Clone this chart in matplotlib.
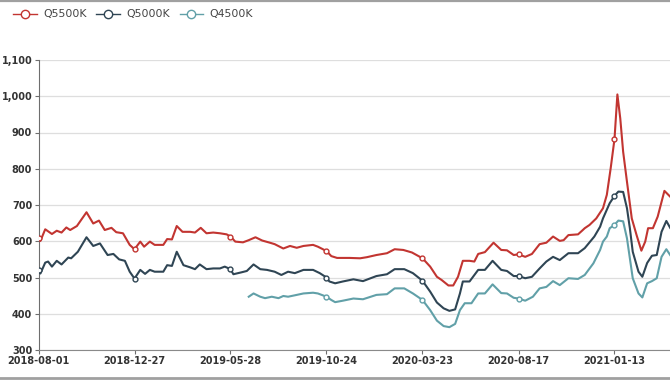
import numpy as np
import matplotlib
matplotlib.use('Agg')
import matplotlib.pyplot as plt
from matplotlib.lines import Line2D
from matplotlib.ticker import FuncFormatter, MultipleLocator

# Category axis: one step per trading day, a label every 100 days
TICK_LABELS = ['2018-08-01', '2018-12-27', '2019-05-28', '2019-10-24',
               '2020-03-23', '2020-08-17', '2021-01-13']
TICK_POS = [0, 100, 200, 300, 400, 500, 600]

# Q5500K (index, price)
q5500_x = [0, 2, 7, 14, 19, 24, 29, 33, 40, 50, 57, 63, 69, 76, 81, 88, 95, 100,
           106, 110, 116, 121, 130, 134, 139, 144, 150, 158, 163, 169, 175, 182,
           189, 196, 200, 205, 213, 219, 226, 233, 241, 246, 255, 262, 269, 276,
           286, 291, 300, 305, 311, 324, 335, 342, 352, 363, 371, 380, 389, 400,
           408, 415, 420, 427, 432, 437, 442, 449, 454, 458, 465, 474, 482, 488,
           495, 500, 507, 514, 522, 529, 536, 543, 547, 552, 562, 567, 569, 574,
           581, 588, 592, 596, 600, 603, 606, 609, 613, 618, 623, 628, 632, 635,
           640, 645, 652, 658]
q5500_y = [608, 601, 633, 620, 629, 624, 638, 631, 642, 680, 649, 657, 631, 637,
           625, 622, 590, 578, 599, 585, 599, 590, 590, 606, 605, 642, 626, 626,
           624, 637, 622, 624, 622, 619, 613, 599, 597, 603, 611, 602, 596, 592,
           580, 587, 582, 587, 590, 585, 573, 559, 554, 554, 553, 556, 562, 567,
           578, 576, 569, 553, 530, 502, 493, 478, 478, 502, 546, 546, 544, 565,
           570, 596, 576, 575, 562, 564, 557, 565, 592, 596, 613, 601, 603, 617,
           619, 631, 636, 645, 663, 691, 728, 801, 882, 1005, 939, 847, 764, 663,
           617, 574, 599, 636, 636, 668, 739, 723]

# Q5000K
q5000_x = [0, 2, 7, 10, 14, 19, 24, 31, 34, 41, 50, 57, 64, 72, 78, 84, 90, 95,
           100, 106, 111, 116, 121, 130, 134, 139, 144, 151, 158, 163, 168, 175,
           182, 189, 194, 200, 203, 211, 217, 224, 231, 238, 246, 253, 260, 267,
           276, 286, 293, 300, 303, 309, 317, 328, 338, 352, 363, 371, 381, 390,
           400, 408, 415, 422, 428, 434, 439, 442, 449, 458, 465, 473, 482, 488,
           495, 500, 507, 514, 522, 529, 536, 543, 552, 562, 569, 579, 585, 588,
           595, 600, 604, 609, 613, 616, 619, 625, 629, 634, 639, 644, 649, 654,
           658]
q5000_y = [522, 511, 541, 544, 530, 546, 536, 555, 553, 571, 611, 587, 594, 562,
           565, 550, 546, 516, 497, 521, 510, 521, 516, 516, 534, 532, 571, 534,
           528, 523, 536, 523, 525, 525, 530, 523, 509, 514, 518, 536, 523, 521,
           516, 507, 516, 512, 521, 521, 512, 500, 489, 484, 489, 495, 490, 504,
           509, 523, 523, 512, 491, 461, 431, 415, 408, 412, 456, 489, 489, 521,
           521, 546, 521, 518, 504, 504, 498, 502, 525, 544, 557, 548, 567, 567,
           581, 613, 640, 663, 705, 725, 737, 736, 691, 636, 571, 516, 502, 540,
           560, 562, 626, 656, 637]

# Q4500K (series starts mid 2019)
q4500_x = [219, 224, 231, 236, 243, 250, 255, 260, 269, 276, 286, 291, 300, 305,
           309, 317, 328, 338, 352, 363, 371, 381, 390, 400, 408, 415, 422, 428,
           434, 439, 444, 451, 458, 465, 473, 482, 488, 495, 500, 507, 515, 522,
           529, 536, 543, 552, 562, 569, 578, 585, 588, 592, 595, 600, 604, 609,
           613, 616, 619, 625, 629, 634, 639, 644, 649, 654, 658]
q4500_y = [447, 456, 447, 443, 447, 443, 449, 447, 452, 456, 458, 456, 447, 438,
           432, 436, 442, 440, 452, 454, 470, 470, 456, 438, 410, 381, 366, 363,
           372, 410, 429, 429, 456, 456, 481, 457, 456, 444, 442, 436, 447, 470,
           474, 490, 479, 498, 496, 507, 539, 576, 599, 613, 636, 645, 657, 655,
           608, 553, 498, 456, 445, 484, 490, 498, 557, 578, 562]

SERIES = [
    ('Q5500K', q5500_x, q5500_y, '#c23531'),
    ('Q5000K', q5000_x, q5000_y, '#2f4554'),
    ('Q4500K', q4500_x, q4500_y, '#61a0a8'),
]

fig = plt.figure(figsize=(6.7, 3.8), dpi=100)
# axes runs past the right edge, like the cropped original
px_per_step = 0.96
x_max = 700
ax = fig.add_axes([38.5 / 670, 30 / 380, x_max * px_per_step / 670, 290 / 380])

for name, xs, ys, color in SERIES:
    marks = [i for i, v in enumerate(xs) if v in TICK_POS]
    ax.plot(xs, ys, color=color, lw=1.5, marker='o', markevery=marks,
            markersize=3.5, markerfacecolor='white', markeredgecolor=color,
            markeredgewidth=1, solid_joinstyle='round', zorder=3)

ax.set_xlim(0, x_max)
ax.set_ylim(300, 1100)
ax.yaxis.set_major_locator(MultipleLocator(100))
ax.yaxis.set_major_formatter(FuncFormatter(lambda v, p: f'{int(v):,}'))
ax.set_xticks(TICK_POS)
ax.set_xticklabels(TICK_LABELS)

ax.grid(axis='y', color='#dedede', lw=0.9)
ax.set_axisbelow(True)
for s in ['top', 'right']:
    ax.spines[s].set_visible(False)
ax.spines['left'].set_color('#6e6e6e')
ax.spines['bottom'].set_color('#8a8a8a')
ax.tick_params(axis='both', length=3.2, width=0.8, color='#6e6e6e', pad=1.3,
               labelsize=7, labelcolor='#333333')
for lbl in ax.get_xticklabels() + ax.get_yticklabels():
    lbl.set_fontweight('bold')

handles = [Line2D([], [], color=c, lw=1, marker='o', markersize=6,
                  markerfacecolor='white', markeredgewidth=1)
           for _, _, _, c in SERIES]
fig.legend(handles, [s[0] for s in SERIES], loc='upper left',
           bbox_to_anchor=(9 / 670, 1 - 5 / 380), ncol=3, frameon=False,
           fontsize=7.8, labelcolor='#444444', handlelength=2.2,
           handletextpad=0.55, columnspacing=0.9, borderaxespad=0)

# grey frame lines at top and bottom of the capture
fig.add_artist(Line2D([0, 1], [1 - 1 / 380, 1 - 1 / 380], transform=fig.transFigure,
                      color='#a0a0a0', lw=1.6))
fig.add_artist(Line2D([0, 1], [2 / 380, 2 / 380], transform=fig.transFigure,
                      color='#a0a0a0', lw=2))

fig.savefig('out.png', dpi=100)
